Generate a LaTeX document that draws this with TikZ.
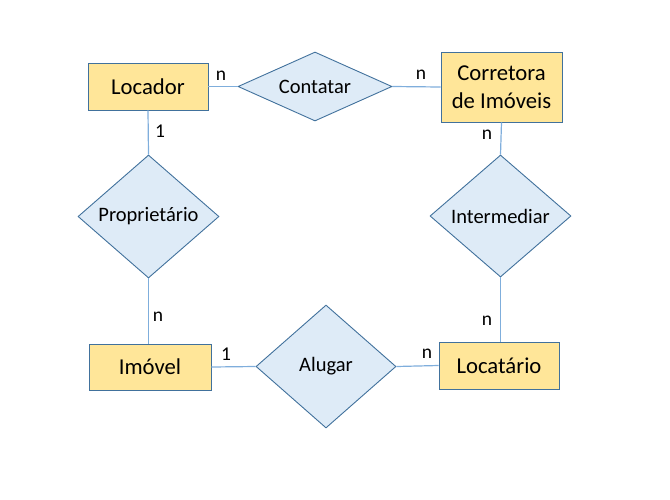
\documentclass[tikz,border=0pt]{standalone}
\usepackage{fontspec}
\setmainfont{Carlito}
\usetikzlibrary{shapes.geometric}
\definecolor{entfill}{HTML}{FFE699}
\definecolor{relfill}{HTML}{DEEBF7}
\definecolor{edgeblue}{HTML}{41719C}
\definecolor{lineblue}{HTML}{7FAEDC}
\tikzset{
  entity/.style={draw=edgeblue, fill=entfill, line width=0.9pt, minimum width=#1, inner sep=0pt, align=center, font=\fontsize{22.7}{28}\selectfont},
  rel/.style={draw=edgeblue, fill=relfill, line width=0.9pt, diamond, inner sep=0pt, font=\fontsize{20.5}{21}\selectfont},
  conn/.style={draw=lineblue, line width=1.2pt},
  card/.style={font=\fontsize{19.5}{20}\selectfont, inner sep=0pt}
}
\begin{document}
\begin{tikzpicture}[x=1pt,y=-1pt]
\useasboundingbox (0,0) rectangle (670,499);
% entities
\node[entity=120pt, minimum height=47pt] (loc) at (148,86.5) {Locador};
\node[entity=121pt, minimum height=70pt] (cor) at (501.5,87) {Corretora\\de Imóveis};
\node[entity=122pt, minimum height=46pt] (imo) at (150,367) {Imóvel};
\node[entity=120pt, minimum height=47pt] (lct) at (499,365.5) {Locatário};
% relationships
\node[rel, shape aspect=2.2, minimum width=154pt, minimum height=69pt] (cont) at (315,86.5) {Contatar};
\node[rel, shape aspect=1.15, minimum width=141pt, minimum height=123pt] (prop) at (148.5,216.5) {Proprietário};
\node[rel, shape aspect=1.15, minimum width=141pt, minimum height=122pt] (inter) at (500.5,216) {Intermediar};
\node[rel, shape aspect=1.15, minimum width=140pt, minimum height=123pt] (alu) at (326,366.5) {Alugar};
% connectors
\draw[conn] (loc.east) -- (cont.west);
\draw[conn] (cont.east) -- (cor.west);
\draw[conn] (loc.south) -- (prop.north);
\draw[conn] (prop.south) -- (prop.south |- imo.north);
\draw[conn] (cor.south) -- (inter.north);
\draw[conn] (inter.south) -- (inter.south |- lct.north);
\draw[conn] (imo.east) -- (alu.west);
\draw[conn] (alu.east) -- (lct.west);
% cardinalities
\node[card] (c1) at (221,76) {n};
\node[card] (c2) at (421,75) {n};
\node[card] (c3) at (160,131) {1};
\node[card] (c4) at (487,135) {n};
\node[card] (c5) at (158,317) {n};
\node[card] (c6) at (226,354) {1};
\node[card] (c7) at (427,354) {n};
\node[card] (c8) at (487,321) {n};
\end{tikzpicture}
\end{document}
